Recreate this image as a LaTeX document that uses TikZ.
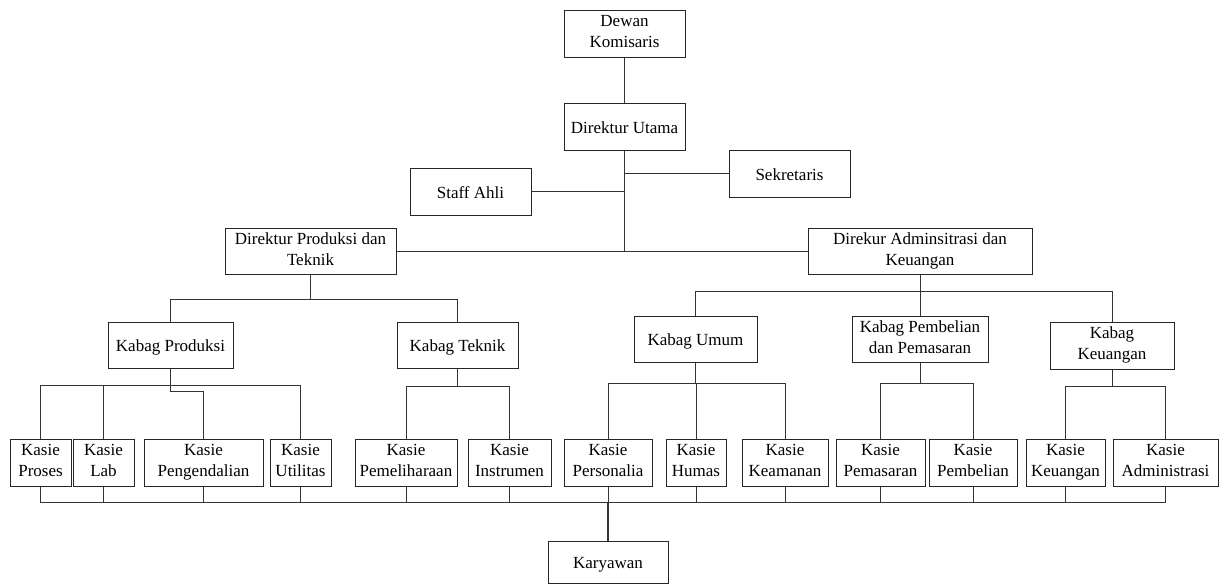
\documentclass[tikz,border=0pt]{standalone}
\usepackage{fontspec}
\setmainfont{Liberation Serif}
\usepackage{tikz}
\usetikzlibrary{calc}
\newcommand\boxstrut{\rule[-4pt]{0pt}{21pt}}

\begin{document}
\begin{tikzpicture}[x=1pt, y=-1pt,
  box/.style={draw=black!85, line width=1pt, align=center, inner sep=0pt,
    minimum height=47pt, font=\fontsize{17}{21}\selectfont,
    execute at begin node=\boxstrut, execute at end node=\boxstrut},
  link/.style={draw=black!80, line width=1pt}]
\useasboundingbox (0,0) rectangle (1219,584);

% top levels
\node[box, minimum width=121pt] (dewan) at (624.5,33.5) {Dewan\\Komisaris};
\node[box, minimum width=121pt] (dirut) at (624.5,126.5) {Direktur Utama};
\node[box, minimum width=121pt] (sekre) at (789.5,173.5) {Sekretaris};
\node[box, minimum width=121pt] (staff) at (470.5,191.5) {Staff Ahli};
\node[box, minimum width=171pt, minimum height=46pt] (dirprod) at (310.5,251) {Direktur Produksi dan\\Teknik};
\node[box, minimum width=224pt, minimum height=46pt] (diradm) at (920,251) {Direkur Adminsitrasi dan\\Keuangan};

% kabag
\node[box, minimum width=125pt, minimum height=46pt] (kprod) at (170.5,345) {Kabag Produksi};
\node[box, minimum width=121pt, minimum height=46pt] (ktek) at (457.5,345) {Kabag Teknik};
\node[box, minimum width=123pt, minimum height=46pt] (kumum) at (695.5,339) {Kabag Umum};
\node[box, minimum width=136pt, minimum height=46pt] (kbeli) at (920,339) {Kabag Pembelian\\dan Pemasaran};
\node[box, minimum width=124pt] (kkeu) at (1112,345.5) {Kabag\\Keuangan};

% kasie
\foreach \name/\x/\w/\txt in {proses/40.5/61/{Kasie\\Proses}, lab/103.5/61/{Kasie\\Lab},
  pengendalian/203.5/119/{Kasie\\Pengendalian}, utilitas/300.5/61/{Kasie\\Utilitas},
  pemeliharaan/406/102/{Kasie\\Pemeliharaan}, instrumen/509.5/83/{Kasie\\Instrumen},
  personalia/608/88/{Kasie\\Personalia}, humas/696/60/{Kasie\\Humas},
  keamanan/785/86/{Kasie\\Keamanan}, pemasaran/880.5/89/{Kasie\\Pemasaran},
  pembelian/973/88/{Kasie\\Pembelian}, keuangan/1065.5/79/{Kasie\\Keuangan},
  administrasi/1165.5/105/{Kasie\\Administrasi}}
  \node[box, minimum width=\w pt] (\name) at (\x,462.5) {\txt};

\node[box, minimum width=120pt, minimum height=42pt] (karyawan) at (608,562) {Karyawan};

% upper links
\draw[link] (dewan) -- (dirut);
\draw[link] (dirut.south) -- (dirut.south |- dirprod.east);
\draw[link] (dirprod.east) -- (diradm.west);
\draw[link] (sekre.west) -- (sekre.west -| dirut.south);
\draw[link] (staff.east) -- (staff.east -| dirut.south);
\draw[link] (dirprod.south) -- ++(0,25) coordinate (bprod) -| (kprod.north);
\draw[link] (bprod) -| (ktek.north);
\draw[link] (diradm.south) -- ++(0,17) coordinate (badm) -| (kumum.north);
\draw[link] (badm) -- (kbeli.north);
\draw[link] (badm) -| (kkeu.north);

% kabag to kasie
\draw[link] (kprod.south) -- ++(0,17) coordinate (bkp);
\foreach \n in {proses,lab,utilitas}
  \draw[link] (bkp) -| (\n.north);
\draw[link] (bkp) -- ++(0,6) -| (pengendalian.north);
\draw[link] (ktek.south) -- ++(0,18) coordinate (bkt);
\foreach \n in {pemeliharaan,instrumen}
  \draw[link] (bkt) -| (\n.north);
\draw[link] (kumum.south) -- ++(0,21) coordinate (bku);
\foreach \n in {personalia,humas,keamanan}
  \draw[link] (bku) -| (\n.north);
\draw[link] (kbeli.south) -- ++(0,21) coordinate (bkb);
\foreach \n in {pemasaran,pembelian}
  \draw[link] (bkb) -| (\n.north);
\draw[link] (kkeu.south) -- ++(0,17) coordinate (bkk);
\foreach \n in {keuangan,administrasi}
  \draw[link] (bkk) -| (\n.north);

% kasie to karyawan
\draw[link, line width=2pt] (karyawan.north) -- ++(0,-38) coordinate (bus);
\foreach \n in {proses,lab,pengendalian,utilitas,pemeliharaan,instrumen,personalia,
  humas,keamanan,pemasaran,pembelian,keuangan,administrasi}
  \draw[link] (\n.south) |- (bus);
\end{tikzpicture}
\end{document}
